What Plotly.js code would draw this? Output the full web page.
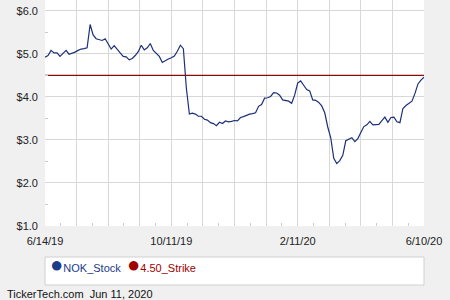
<!DOCTYPE html>
<html>
<head>
<meta charset="utf-8">
<script src="https://cdn.plot.ly/plotly-3.0.1.min.js"></script>
<style>html,body{margin:0;padding:0;background:#f0f0f0;}#chart{width:450px;height:300px;}</style>
</head>
<body>
<div id="chart"></div>
<script>
// NOK daily close, equally spaced samples from 6/14/19 to 6/10/20
const stockPrices = [
  4.92, 4.96, 5.08, 5.02, 5.02, 4.94, 5.01, 5.08, 4.99, 5.01,
  5.04, 5.08, 5.11, 5.12, 5.14, 5.68, 5.44, 5.35, 5.33, 5.31,
  5.35, 5.22, 5.11, 5.19, 5.09, 5.02, 4.94, 4.93, 4.86, 4.89,
  4.96, 5.05, 5.20, 5.09, 5.14, 5.24, 5.08, 5.01, 4.94, 4.80,
  4.85, 4.88, 4.91, 4.95, 5.06, 5.20, 5.12, 4.20, 3.60, 3.62,
  3.60, 3.55, 3.55, 3.48, 3.46, 3.40, 3.38, 3.33, 3.41, 3.38,
  3.44, 3.42, 3.43, 3.45, 3.44, 3.52, 3.54, 3.57, 3.60, 3.61,
  3.63, 3.78, 3.82, 3.97, 3.98, 4.01, 4.10, 4.09, 4.04, 3.93,
  3.91, 3.90, 3.85, 4.04, 4.32, 4.37, 4.27, 4.17, 4.14, 3.93,
  3.92, 3.87, 3.79, 3.63, 3.30, 3.05, 2.57, 2.45, 2.52, 2.64,
  2.98, 3.02, 3.05, 2.96, 3.03, 3.17, 3.31, 3.35, 3.43, 3.35,
  3.35, 3.36, 3.45, 3.53, 3.41, 3.52, 3.53, 3.42, 3.40, 3.73,
  3.80, 3.84, 3.90, 4.08, 4.30, 4.39, 4.46
];
const strikePrice = 4.50;
const dateLabels = ["6/14/19", "10/11/19", "2/11/20", "6/10/20"];
const seriesNames = ["NOK_Stock", "4.50_Strike"];
const yTicks = [1, 2, 3, 4, 5, 6];
const yTickText = ["$1.0", "$2.0", "$3.0", "$4.0", "$5.0", "$6.0"];

const n = stockPrices.length;
const xIdx = stockPrices.map((_, i) => i);
const last = n - 1;
const gridStep = last / 12;
const tickvals = [], ticktext = [];
for (let g = 0; g <= 12; g++) {
  tickvals.push(g * gridStep);
  ticktext.push(g % 4 === 0 ? dateLabels[g / 4] : "");
}

const stockColor = "#1c3079";
const strikeColor = "#850d0d";
const legendBlue = "#1a3a8a";
const legendRed = "#a00000";

function legendName(color, label) {
  return '<span style="color:' + color + ';font-size:22px">●</span>' +
         '<span style="color:' + color + '">' + label + '</span>';
}
const hiddenMarker = {color: "rgba(0,0,0,0)", size: 1};

const traces = [
  {x: xIdx, y: stockPrices, type: "scatter", mode: "lines",
   line: {color: stockColor, width: 1.2}, showlegend: false, hoverinfo: "skip"},
  {x: [0, last], y: [strikePrice, strikePrice], type: "scatter", mode: "lines",
   line: {color: strikeColor, width: 1.2}, showlegend: false, hoverinfo: "skip"},
  {x: [null], y: [null], type: "scatter", mode: "markers", marker: hiddenMarker,
   name: legendName(legendBlue, seriesNames[0])},
  {x: [null], y: [null], type: "scatter", mode: "markers", marker: hiddenMarker,
   name: legendName(legendRed, seriesNames[1])},
  {x: [null], y: [null], type: "scatter", mode: "markers", marker: hiddenMarker,
   name: " "}
];

const W = 450, H = 300, L = 45, R = 26, T = 0, B = 74;
const pw = W - L - R, ph = H - T - B;
const px2x = p => (p - L) / pw;
const py2y = p => (H - B - p) / ph;

const layout = {
  width: W, height: H,
  margin: {l: L, r: R, t: T, b: B, pad: 0},
  paper_bgcolor: "#f0f0f0",
  plot_bgcolor: "#ffffff",
  font: {family: "Liberation Sans, Arial, sans-serif", size: 11, color: "#222"},
  xaxis: {
    range: [0, last], tickmode: "array", tickvals: tickvals, ticktext: ticktext,
    showgrid: true, gridcolor: "#d8d8d8", gridwidth: 1, zeroline: false,
    ticks: "", showline: false, fixedrange: true, ticklabelstandoff: 7,
    minor: {tick0: gridStep / 2, dtick: gridStep, ticks: "inside", ticklen: 3, tickcolor: "#cccccc", showgrid: false}
  },
  yaxis: {
    range: [1, 6.25], tickmode: "array", tickvals: yTicks, ticktext: yTickText,
    showgrid: true, gridcolor: "#d8d8d8", gridwidth: 1, zeroline: false,
    ticks: "", showline: false, fixedrange: true, ticklabelstandoff: 6,
    minor: {tick0: 0.5, dtick: 1, ticks: "inside", ticklen: 3, tickcolor: "#cccccc", showgrid: false}
  },
  showlegend: true,
  legend: {
    orientation: "h", x: px2x(10), y: py2y(268), xanchor: "left", yanchor: "middle",
    bgcolor: "rgba(0,0,0,0)", borderwidth: 0, font: {size: 11},
    itemwidth: 30, entrywidth: 32, entrywidthmode: "pixels"
  },
  shapes: [
    {type: "rect", xref: "paper", yref: "paper", x0: 0, x1: 1, y0: py2y(285), y1: py2y(257),
     fillcolor: "#ffffff", line: {color: "#d0d0d0", width: 1}, layer: "below"}
  ],
  annotations: [
    {text: "TickerTech.com&nbsp;&nbsp;Jun 11, 2020", xref: "paper", yref: "paper",
     x: px2x(5), y: py2y(294), xanchor: "left", yanchor: "middle", showarrow: false,
     font: {size: 11, color: "#111"}}
  ]
};

Plotly.newPlot("chart", traces, layout, {displayModeBar: false, staticPlot: true});
</script>
</body>
</html>
